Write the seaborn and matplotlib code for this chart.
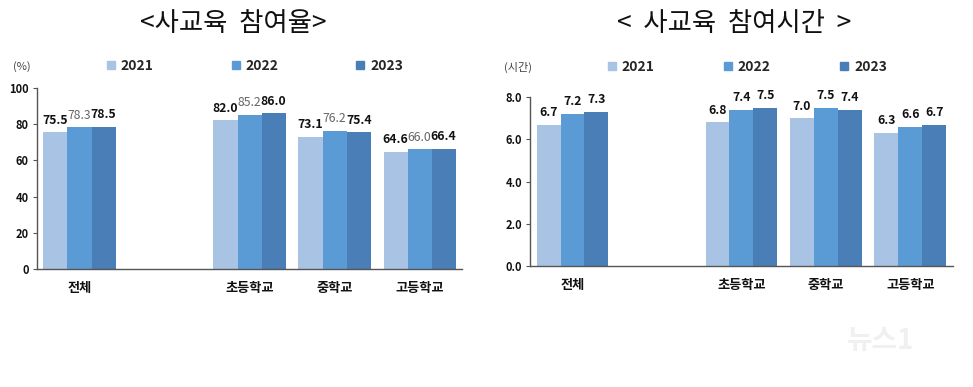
import numpy as np
import pandas as pd
import matplotlib
matplotlib.use("Agg")
import matplotlib.pyplot as plt
from matplotlib.lines import Line2D
import seaborn as sns

# ── Data ───────────────────────────────────────────────────────────────────────
years  = ["2021", "2022", "2023"]
groups = ["전체", "초등학교", "중학교", "고등학교"]

rate_2021 = [75.5, 82.0, 73.1, 64.6]
rate_2022 = [78.3, 85.2, 76.2, 66.0]
rate_2023 = [78.5, 86.0, 75.4, 66.4]

hours_2021 = [6.7, 6.8, 7.0, 6.3]
hours_2022 = [7.2, 7.4, 7.5, 6.6]
hours_2023 = [7.3, 7.5, 7.4, 6.7]

# blank slot between 전체 and the school levels
order = ["전체", " ", "초등학교", "중학교", "고등학교"]

COLORS = ["#A9C3E4", "#5B9BD5", "#4A7EB6"]
TEXT   = "#111111"
FONT   = ["Noto Sans CJK KR", "DejaVu Sans"]

sns.set_theme(style="white")
plt.rcParams["font.family"] = FONT


def long_df(v21, v22, v23):
    rows = []
    for yr, vals in zip(years, [v21, v22, v23]):
        for g, v in zip(groups, vals):
            rows.append({"group": g, "year": yr, "value": v})
    return pd.DataFrame(rows)


def draw(ax, df, ylim, yticks, yfmt, label_colors, label_weights):
    sns.barplot(data=df, x="group", y="value", hue="year", order=order,
                hue_order=years, palette=COLORS, width=0.85, saturation=1,
                linewidth=0, legend=False, ax=ax)
    ax.set_xlim(-0.5, 4.5)
    ax.set_ylim(*ylim)
    ax.set_yticks(yticks)
    ax.set_yticklabels([yfmt.format(t) for t in yticks], fontsize=8,
                       fontweight="bold", color=TEXT)
    ax.set_xticks(range(len(order)))
    ax.set_xticklabels(order, fontsize=9.5, fontweight="bold", color=TEXT)
    ax.set_xlabel("")
    ax.set_ylabel("")
    for s in ["top", "right"]:
        ax.spines[s].set_visible(False)
    for s in ["left", "bottom"]:
        ax.spines[s].set_color("#555555")
        ax.spines[s].set_linewidth(1.0)
    ax.tick_params(axis="y", length=3, width=0.8, color="#555555", pad=3, left=True)
    ax.tick_params(axis="x", length=0, pad=9)
    for cont, c, w in zip(ax.containers, label_colors, label_weights):
        ax.bar_label(cont, fmt="%.1f", padding=4, fontsize=8.8,
                     color=c, fontweight=w)


fig = plt.figure(figsize=(9.73, 3.87), dpi=100)
ax1 = fig.add_axes([0.038, 0.305, 0.437, 0.468])
ax2 = fig.add_axes([0.545, 0.313, 0.434, 0.436])

draw(ax1, long_df(rate_2021, rate_2022, rate_2023), (0, 100),
     [0, 20, 40, 60, 80, 100], "{:.0f}",
     [TEXT, "#666666", TEXT], ["bold", "normal", "bold"])
draw(ax2, long_df(hours_2021, hours_2022, hours_2023), (0, 8),
     [0, 2, 4, 6, 8], "{:.1f}",
     [TEXT, TEXT, TEXT], ["bold", "bold", "bold"])

# titles
fig.text(0.24, 0.94, "<사교육  참여율>", ha="center", va="center",
         fontsize=19, color=TEXT)
fig.text(0.755, 0.94, "<  사교육  참여시간  >", ha="center", va="center",
         fontsize=19, color=TEXT)

# unit labels
fig.text(0.022, 0.829, "(%)", ha="center", va="center", fontsize=8, color="#444444")
fig.text(0.532, 0.827, "(시간)", ha="center", va="center", fontsize=8, color="#444444")

# legends
handles = [Line2D([], [], marker="s", ls="", markersize=6, color=c) for c in COLORS]
for x, y, sp in [(0.262, 0.829, 5.6), (0.768, 0.827, 5.0)]:
    fig.legend(handles, years, loc="center", bbox_to_anchor=(x, y), ncol=3,
               frameon=False, handlelength=0.6, handletextpad=0.4,
               columnspacing=sp, prop={"size": 10, "weight": "bold"})

# watermark
fig.text(0.905, 0.12, "뉴스1", ha="center", va="center", fontsize=20,
         fontstyle="italic", color="#F0F0F0", fontweight="bold")

fig.savefig("out.png", dpi=100, facecolor="white")
